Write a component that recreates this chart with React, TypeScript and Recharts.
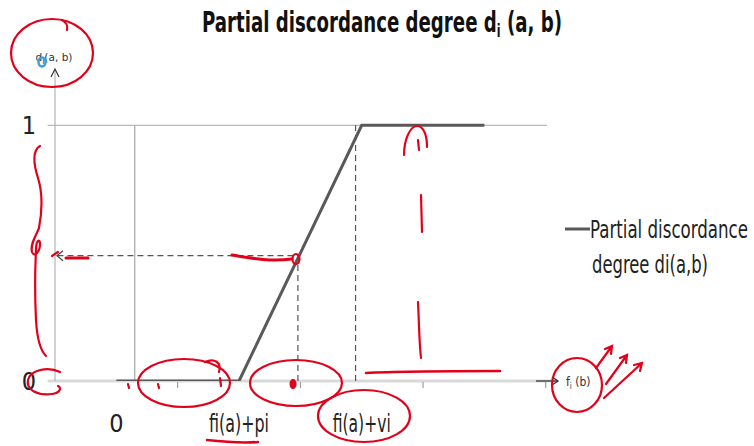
import React from 'react';
import { LineChart, Line, XAxis, YAxis, ReferenceLine, ReferenceDot, Legend } from 'recharts';

// categories on the criterion axis and the discordance value at each one
const categories = ['0', 'fi(a)+pi', 'fi(a)+vi', ''];
const positions = [0, 1, 2, 3];
const discordance = [0, 0, 1, 1];
const xTicks = [-0.5, 0, 0.5, 1, 1.5, 2, 2.5, 3, 3.5];
const yTicks = [0, 1];
const seriesName = 'Partial discordance degree di(a,b)';

// read-off guides
const readX = 1.48;
const readY = 0.49;
const vetoX = 1.95;
const guideX = 0.15;

const data = positions.map((x, i) => ({ x, label: categories[i], d: discordance[i] }));

const FONT = "'Liberation Sans Narrow', 'DejaVu Sans Condensed', 'Liberation Sans', sans-serif";
const RED = '#e3001b';
const labelWidths: Record<string, number> = { 'fi(a)+pi': 60, 'fi(a)+vi': 58 };

function XTick({ x, y, payload }: any) {
  const v = payload.value;
  if (!Number.isInteger(v)) {
    if (v < 0) return null;
    return <line x1={x} x2={x} y1={y + 1} y2={y + 7} stroke="#8c8c8c" strokeWidth={1} />;
  }
  const text = categories[positions.indexOf(v)];
  if (!text) return null;
  const w = labelWidths[text];
  const fit = w ? { textLength: w, lengthAdjust: 'spacingAndGlyphs' as const } : {};
  return (
    <text x={x} y={y + 51} textAnchor="middle" fontFamily={FONT} fontSize={25} fill="#222" {...fit}>
      {text}
    </text>
  );
}

function YTick({ x, y, payload }: any) {
  return (
    <text x={x - 26} y={y} dy="0.36em" textAnchor="middle" fontFamily={FONT} fontSize={25} fill="#222">
      {payload.value}
    </text>
  );
}

function LegendContent() {
  const words = seriesName.split(' ');
  const first = words.slice(0, 2).join(' ');
  const second = words.slice(2).join(' ');
  return (
    <svg width={190} height={75}>
      <line x1={3} x2={28} y1={14} y2={14} stroke="#595959" strokeWidth={3} />
      <text x={28} y={23} fontFamily={FONT} fontSize={24} fill="#222" textLength={158} lengthAdjust="spacingAndGlyphs">
        {first}
      </text>
      <text x={30} y={58} fontFamily={FONT} fontSize={24} fill="#222" textLength={116} lengthAdjust="spacingAndGlyphs">
        {second}
      </text>
    </svg>
  );
}

const upArrow = ({ cx, cy }: any) => (
  <g>
    <path d={`M${cx - 4} ${cy + 8} L${cx} ${cy} L${cx + 4} ${cy + 8}`} fill="none" stroke="#333" strokeWidth={1.2} />
    <text x={cx - 1} y={cy - 8} textAnchor="middle" fontFamily={FONT} fontSize={11} fill="#333" textLength={37} lengthAdjust="spacingAndGlyphs">
      d<tspan fontSize={8} dy={3}>i</tspan>
      <tspan dy={-3}>(a, b)</tspan>
    </text>
  </g>
);

const rightArrow = ({ cx, cy }: any) => (
  <g>
    <line x1={cx - 22} x2={cx} y1={cy} y2={cy} stroke="#333" strokeWidth={1.3} />
    <path d={`M${cx - 6} ${cy - 4} L${cx} ${cy} L${cx - 6} ${cy + 4}`} fill="none" stroke="#333" strokeWidth={1.3} />
    <text x={cx + 8} y={cy + 5} fontFamily={FONT} fontSize={12} fill="#333">
      f<tspan fontSize={8} dy={3}>i</tspan>
      <tspan dy={-3}> (b)</tspan>
    </text>
  </g>
);

const leftArrow = ({ cx, cy }: any) => (
  <path d={`M${cx + 8} ${cy - 5} L${cx + 2} ${cy} L${cx + 8} ${cy + 5}`} fill="none" stroke="#444" strokeWidth={1.2} />
);

function Annotations() {
  const s = { fill: 'none', stroke: RED, strokeWidth: 2.2, strokeLinecap: 'round' as const };
  return (
    <g>
      <ellipse cx={52} cy={53} rx={41} ry={34} {...s} />
      <path d="M62 20 C66 22 68 26 67 30" {...s} />
      <ellipse cx={42} cy={62} rx={3.5} ry={4.5} fill="none" stroke="#3b9ee0" strokeWidth={2.5} />
      <path d="M40 146 C33 150 33 162 38 178 C43 194 42 212 39 228 C36 236 30 244 32 252 C34 258 40 252 40 244 C40 238 36 240 36 250 C35 270 35 300 36 320 C37 338 40 350 46 356" {...s} />
      <path d="M60 372 C48 366 30 370 28 380 C26 390 38 396 52 394 C60 393 62 388 58 386" {...s} />
      <path d="M66 258 L88 258" {...s} strokeWidth={3} />
      <path d="M52 256 L58 252" {...s} />
      <path d="M232 255 C250 258 270 262 292 259" {...s} strokeWidth={3} />
      <ellipse cx={296} cy={259} rx={3.5} ry={5} {...s} />
      <ellipse cx={184} cy={383} rx={46} ry={24} {...s} />
      <path d="M205 362 C214 358 222 362 219 372" {...s} />
      <path d="M158 384 L159 388 M220 378 L221 386 M128 384 L129 388" {...s} />
      <ellipse cx={296} cy={383} rx={46} ry={23} {...s} />
      <ellipse cx={293} cy={384} rx={3} ry={4.5} fill={RED} stroke={RED} />
      <ellipse cx={364} cy={416} rx={46} ry={26} {...s} />
      <path d="M207 440 C225 442 245 443 258 442" {...s} strokeWidth={2.6} />
      <path d="M404 155 C404 140 410 126 417 126 C424 126 427 136 427 147" {...s} />
      <path d="M418 140 L419 150" {...s} />
      <path d="M421 195 L422 232" {...s} />
      <path d="M418 302 C419 320 419 340 421 358" {...s} />
      <path d="M366 373 C400 371 450 371 500 371" {...s} strokeWidth={2.6} />
      <ellipse cx={577} cy={385} rx={25} ry={27} {...s} />
      <path d="M596 368 L612 346 M605 349 L612 346 L611 354" {...s} />
      <path d="M606 384 L627 355 M620 358 L627 355 L626 363" {...s} />
      <path d="M604 398 L642 363 M634 365 L642 363 L640 371" {...s} />
    </g>
  );
}

export default function App() {
  return (
    <div style={{ position: 'absolute', left: 0, top: 0, width: 754, height: 446, background: '#fff' }}>
      <LineChart width={754} height={446} data={data} margin={{ top: 69, right: 196, bottom: 0, left: 0 }}>
        <XAxis
          type="number"
          dataKey="x"
          domain={[-0.5, 3.6]}
          allowDataOverflow
          ticks={xTicks}
          interval={0}
          height={65}
          tickSize={0}
          tickMargin={0}
          tickLine={false}
          axisLine={false}
          tick={<XTick />}
        />
        <YAxis
          type="number"
          domain={[0, 1.22]}
          allowDataOverflow
          ticks={yTicks}
          width={55}
          tickSize={0}
          tickMargin={0}
          tickLine={false}
          axisLine={{ stroke: '#a6a6a6', strokeWidth: 1 }}
          tick={<YTick />}
        />
        <ReferenceLine segment={[{ x: -0.56, y: 0 }, { x: 3.6, y: 0 }]} ifOverflow="visible" stroke="#d9d9d9" strokeWidth={3} />
        <ReferenceLine segment={[{ x: -0.56, y: 1 }, { x: 3.51, y: 1 }]} ifOverflow="visible" stroke="#a6a6a6" strokeWidth={1.2} />
        <ReferenceLine segment={[{ x: guideX, y: 0 }, { x: guideX, y: 1 }]} ifOverflow="visible" stroke="#a6a6a6" strokeWidth={1.2} />
        <ReferenceLine segment={[{ x: readX, y: 0 }, { x: readX, y: readY }]} ifOverflow="visible" stroke="#555" strokeWidth={1.2} strokeDasharray="6 4" />
        <ReferenceLine segment={[{ x: vetoX, y: 0 }, { x: vetoX, y: 1 }]} ifOverflow="visible" stroke="#555" strokeWidth={1.2} strokeDasharray="6 4" />
        <ReferenceLine segment={[{ x: -0.48, y: readY }, { x: readX, y: readY }]} ifOverflow="visible" stroke="#555" strokeWidth={1.2} strokeDasharray="6 4" />
        <ReferenceDot x={-0.5} y={readY} ifOverflow="visible" shape={leftArrow} />
        <ReferenceDot x={-0.5} y={1.22} ifOverflow="visible" shape={upArrow} />
        <ReferenceDot x={3.6} y={0} ifOverflow="visible" shape={rightArrow} />
        <Line
          type="linear"
          dataKey="d"
          name={seriesName}
          stroke="#595959"
          strokeWidth={3}
          dot={false}
          activeDot={false}
          isAnimationActive={false}
        />
        <Legend
          layout="horizontal"
          verticalAlign="middle"
          align="center"
          wrapperStyle={{ left: 562, top: 215, width: 190, height: 75 }}
          content={<LegendContent />}
        />
      </LineChart>
      <svg width={754} height={446} style={{ position: 'absolute', left: 0, top: 0, pointerEvents: 'none' }}>
        <text x={382} y={32} textAnchor="middle" fontFamily={FONT} fontWeight="bold" fontSize={28} fill="#111" textLength={360} lengthAdjust="spacingAndGlyphs">
          Partial discordance degree d<tspan fontSize={17} dy={5}>i</tspan>
          <tspan dy={-5}> (a, b)</tspan>
        </text>
        <Annotations />
      </svg>
    </div>
  );
}
